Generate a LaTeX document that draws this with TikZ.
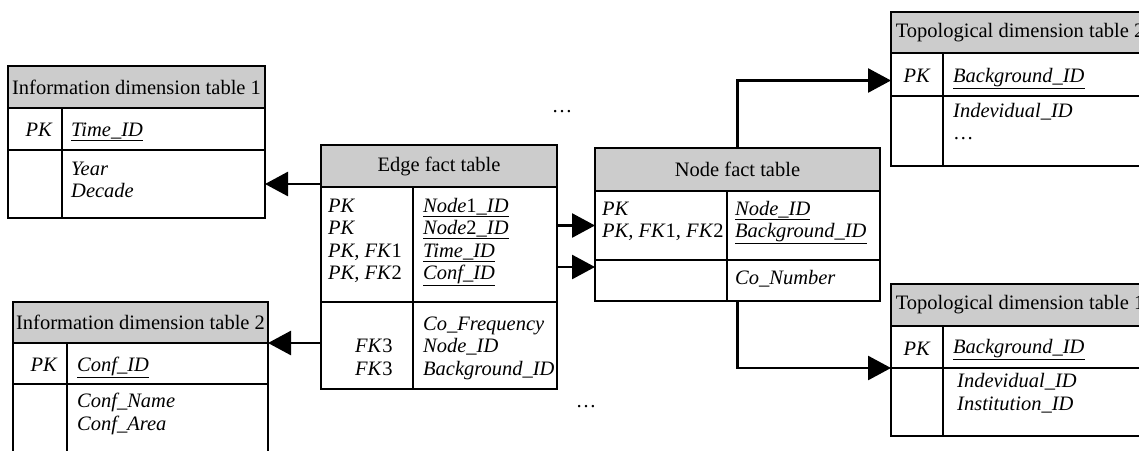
\documentclass[tikz,border=0pt]{standalone}
\usepackage{fontspec}
\setmainfont{Liberation Serif}
\usetikzlibrary{arrows.meta}
\definecolor{headgray}{RGB}{204,204,204}
\tikzset{
  cell/.style={draw, line width=1.2pt, inner sep=0pt, outer sep=0pt, anchor=north west},
  head/.style={cell, fill=headgray, font=\fontsize{20.5}{22.6}\selectfont},
  rule/.style={line width=1.2pt},
  fld/.style={inner sep=0pt, anchor=base west, font=\fontsize{20.5}{22.6}\selectfont\itshape},
  keyfld/.style={fld, anchor=base east},
  link/.style={line width=2.7pt, -{Triangle[length=23pt,width=24pt]}},
}

\begin{document}
\begin{tikzpicture}[x=1pt, y=-1pt]
      \useasboundingbox (0,0) rectangle (1139,450);
      \clip (0,0) rectangle (1139,450);
      % Information dimension table 1
      \node[head, minimum width=257pt, minimum height=42pt] (infoAtitle) at (8,66) {Information dimension table 1};
      \node[cell, minimum width=257pt, minimum height=42pt] (infoAkey) at (8,108) {};
      \node[cell, minimum width=257pt, minimum height=68pt] (infoAbody) at (8,150) {};
      \draw[rule] (62,108) -- (62,218);
      \node[keyfld] (infoApk) at (52,136) {PK};
      \node[fld] (infoAid) at (71,136) {\underline{Time\_ID}};
      \node[fld] (infoAyear) at (71,175) {Year};
      \node[fld] (infoAdecade) at (71,197) {Decade};
      % Information dimension table 2
      \node[head, minimum width=255pt, minimum height=41pt] (infoBtitle) at (13,302) {Information dimension table 2};
      \node[cell, minimum width=255pt, minimum height=41pt] (infoBkey) at (13,343) {};
      \node[cell, minimum width=255pt, minimum height=72pt] (infoBbody) at (13,384) {};
      \draw[rule] (67,343) -- (67,456);
      \node[keyfld] (infoBpk) at (57,371) {PK};
      \node[fld] (infoBid) at (77,371) {\underline{Conf\_ID}};
      \node[fld] (infoBname) at (77,407) {Conf\_Name};
      \node[fld] (infoBarea) at (77,430) {Conf\_Area};
      % Edge fact table
      \node[head, minimum width=236pt, minimum height=42pt] (edgetitle) at (321,145) {Edge fact table};
      \node[cell, minimum width=236pt, minimum height=115pt] (edgekey) at (321,187) {};
      \node[cell, minimum width=236pt, minimum height=87pt] (edgebody) at (321,302) {};
      \draw[rule] (413,187) -- (413,389);
      \foreach \t [count=\i] in {PK, PK, {PK, FK\textup{1}}, {PK, FK\textup{2}}}
        \node[fld] (edgepk\i) at (328,{189.4+22.6*\i}) {\t};
      \foreach \t [count=\i] in {\underline{Node\textup{1}\_ID}, \underline{Node\textup{2}\_ID}, \underline{Time\_ID}, \underline{Conf\_ID}}
        \node[fld] (edgeid\i) at (423,{189.4+22.6*\i}) {\t};
      \foreach \t [count=\i] in {Co\_Frequency, Node\_ID, Background\_ID}
        \node[fld] (edgeattr\i) at (423,{307.4+22.6*\i}) {\t};
      \node[fld] (edgefkA) at (355,352) {FK\textup{3}};
      \node[fld] (edgefkB) at (355,375) {FK\textup{3}};
      % Node fact table
      \node[head, minimum width=285pt, minimum height=43pt] (nodetitle) at (595,148) {Node fact table};
      \node[cell, minimum width=285pt, minimum height=69pt] (nodekey) at (595,191) {};
      \node[cell, minimum width=285pt, minimum height=41pt] (nodebody) at (595,260) {};
      \draw[rule] (727,191) -- (727,301);
      \node[fld] (nodepkA) at (602,215) {PK};
      \node[fld] (nodepkB) at (602,237) {PK, FK\textup{1}, FK\textup{2}};
      \node[fld] (nodeidA) at (735,215) {\underline{Node\_ID}};
      \node[fld] (nodeidB) at (735,237) {\underline{Background\_ID}};
      \node[fld] (nodeattr) at (735,284) {Co\_Number};
      % Topological dimension table 2
      \node[head, minimum width=258pt, minimum height=41pt] (topoBtitle) at (891,12) {Topological dimension table 2};
      \node[cell, minimum width=258pt, minimum height=43pt] (topoBkey) at (891,53) {};
      \node[cell, minimum width=258pt, minimum height=70pt] (topoBbody) at (891,96) {};
      \draw[rule] (943,53) -- (943,166);
      \node[keyfld] (topoBpk) at (930,82) {PK};
      \node[fld] (topoBid) at (953,82) {\underline{Background\_ID}};
      \node[fld] (topoBattr) at (953,117) {Indevidual\_ID};
      \node[fld] (topoBmore) at (953,139) {\textup{\ldots}};
      % Topological dimension table 1
      \node[head, minimum width=258pt, minimum height=42pt] (topoAtitle) at (891,284) {Topological dimension table 1};
      \node[cell, minimum width=258pt, minimum height=42pt] (topoAkey) at (891,326) {};
      \node[cell, minimum width=258pt, minimum height=68pt] (topoAbody) at (891,368) {};
      \draw[rule] (943,326) -- (943,436);
      \node[keyfld] (topoApk) at (930,355) {PK};
      \node[fld] (topoAid) at (953,353) {\underline{Background\_ID}};
      \node[fld] (topoAattrA) at (957,387) {Indevidual\_ID};
      \node[fld] (topoAattrB) at (957,410) {Institution\_ID};
      % dots
      \node[fld, anchor=base] (dotsA) at (562,112) {\textup{\ldots}};
      \node[fld, anchor=base] (dotsB) at (586,407) {\textup{\ldots}};
      % links
      \coordinate (nodeentry) at ([yshift=-7pt]nodebody.north west);
      \coordinate (topoBentry) at ([yshift=-6pt]topoBkey.west);
      \draw[link] (edgetitle.west |- infoAbody.east) -- (infoAbody.east);
      \draw[link] (edgebody.west |- infoBtitle.south east) -- (infoBtitle.south east);
      \draw[link] (edgekey.east |- nodekey.west) -- (nodekey.west);
      \draw[link] (edgekey.east |- nodeentry) -- (nodeentry);
      \draw[link] (nodetitle.north) |- (topoBentry);
      \draw[link] (nodebody.south) |- (topoAkey.south west);
   \end{tikzpicture}
\end{document}
